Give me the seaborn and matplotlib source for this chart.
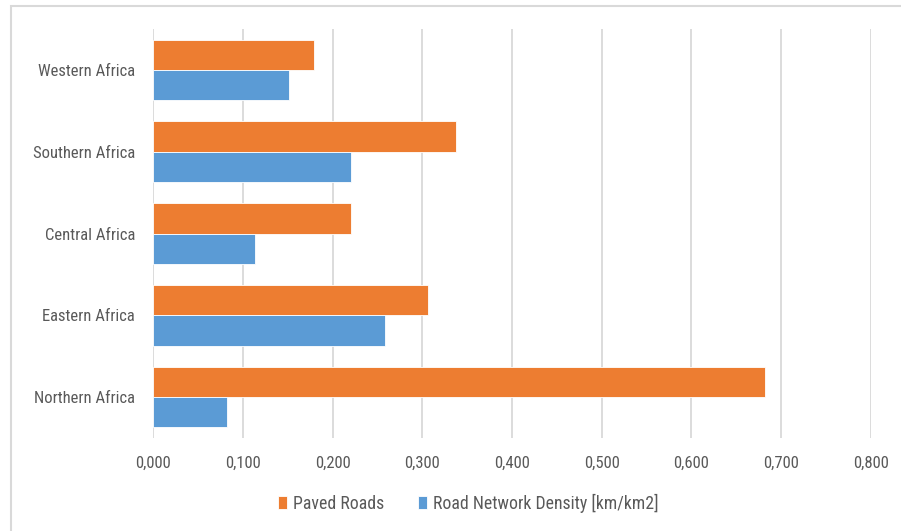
import matplotlib
matplotlib.use("Agg")
import matplotlib.pyplot as plt
import matplotlib.ticker as mticker
from matplotlib import font_manager
from matplotlib.patches import Rectangle
import seaborn as sns
import pandas as pd

# Regional road indicators
regions = ["Western Africa", "Southern Africa", "Central Africa", "Eastern Africa", "Northern Africa"]
paved_roads = [0.179, 0.337, 0.221, 0.306, 0.682]
road_density = [0.151, 0.221, 0.113, 0.258, 0.082]
series_names = ["Paved Roads", "Road Network Density [km/km2]"]
x_ticks = [0.0, 0.1, 0.2, 0.3, 0.4, 0.5, 0.6, 0.7, 0.8]

df = pd.DataFrame({
    "Region": regions * 2,
    "Value": paved_roads + road_density,
    "Series": [series_names[0]] * len(regions) + [series_names[1]] * len(regions),
})

sns.set_theme(style="white")
families = ["Roboto Condensed", "Liberation Sans Narrow", "DejaVu Sans"]
plt.rcParams["font.family"] = families
tick_font = font_manager.FontProperties(family=families, size=12)
legend_font = font_manager.FontProperties(family=families, size=12.8)

text_color = "#595959"
grid_color = "#D9D9D9"
palette = {series_names[0]: "#ED7D31", series_names[1]: "#5B9BD5"}

fig = plt.figure(figsize=(9.01, 5.31), dpi=100)
ax = fig.add_axes([153.3 / 901, 1 - 438 / 531, (870.7 - 153.3) / 901, (438 - 29) / 531])

sns.barplot(data=df, y="Region", x="Value", hue="Series", order=regions,
            hue_order=series_names, palette=palette, orient="h", width=0.74,
            saturation=1, edgecolor="white", linewidth=0.6, ax=ax, legend=True)

ax.set_xlim(0, 0.8)
ax.set_xticks(x_ticks)
ax.xaxis.set_major_formatter(mticker.FuncFormatter(lambda v, p: f"{v:.3f}".replace(".", ",")))
ax.grid(axis="x", color=grid_color, linewidth=1.3)
ax.set_axisbelow(True)
for s in ax.spines.values():
    s.set_visible(False)
ax.set_xlabel("")
ax.set_ylabel("")
ax.tick_params(axis="both", length=0, colors=text_color)
ax.tick_params(axis="y", pad=13)
ax.tick_params(axis="x", pad=13)
for lbl in ax.get_xticklabels() + ax.get_yticklabels():
    lbl.set_fontproperties(tick_font)

handles, labels = ax.get_legend_handles_labels()
ax.legend_.remove()
fig.legend(handles, labels, loc="center", bbox_to_anchor=(468 / 901, 1 - 503 / 531),
           ncol=2, frameon=False, prop=legend_font, labelcolor=text_color,
           handlelength=0.55, handleheight=0.7, handletextpad=0.3, columnspacing=1.9)

# Light outer frame
fig.patches.append(Rectangle((11 / 901, -0.05), 1.2, 1 - 6 / 531 + 0.05, transform=fig.transFigure,
                             fill=False, edgecolor=grid_color, linewidth=1.5))

fig.savefig("out.png", dpi=100)
